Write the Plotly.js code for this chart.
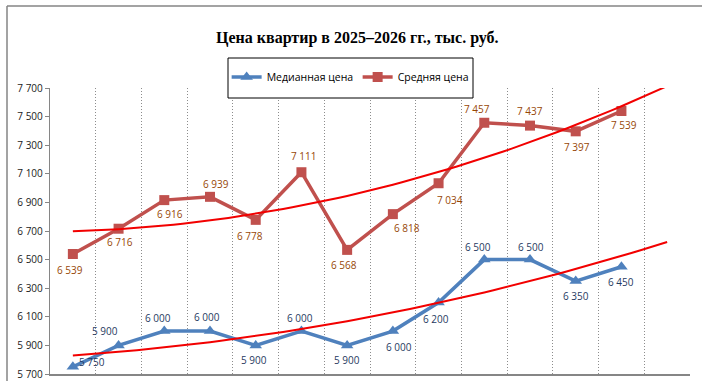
<!DOCTYPE html>
<html>
<head>
<meta charset="utf-8">
<script src="https://cdn.plot.ly/plotly-3.0.1.min.js"></script>
<style>
  html, body { margin: 0; padding: 0; background: #ffffff; }
  #chart { width: 702px; height: 381px; }
</style>
</head>
<body>
<div id="chart"></div>
<script>
// Monthly apartment prices, thousand roubles
const periods = [1, 2, 3, 4, 5, 6, 7, 8, 9, 10, 11, 12, 13];
const medianPrice = [5750, 5900, 6000, 6000, 5900, 6000, 5900, 6000, 6200, 6500, 6500, 6350, 6450];
const averagePrice = [6539, 6716, 6916, 6939, 6778, 7111, 6568, 6818, 7034, 7457, 7437, 7397, 7539];
const seriesNames = ['Медианная цена', 'Средняя цена'];
const yTickValues = [5700, 5900, 6100, 6300, 6500, 6700, 6900, 7100, 7300, 7500, 7700];
const chartTitle = 'Цена квартир в 2025–2026 гг., тыс. руб.';

// Data label offsets in pixels: [right, down]
const medianLabelShift = [[19, -5], [-14, -14], [-6, -13], [-3, -14], [-2, 15], [-1, -13], [0, 15],
                          [6, 16], [-3, 16], [-6, -13], [1, -13], [0, 15], [0, 15]];
const averageLabelShift = [[-3, 16], [1, 13], [6, 14], [6, -13], [-6, 16], [2, -16], [-3, 15],
                           [14, 14], [11, 17], [-7, -14], [0, -15], [1, 16], [3, 14]];

const MEDIAN_COLOR = '#4F81BD';
const AVERAGE_COLOR = '#C0504D';
const MEDIAN_LABEL = '#1F3A5F';
const AVERAGE_LABEL = '#974706';
const TREND_COLOR = '#F20000';
const LABEL_FONT = 'Open Sans, Noto Sans, sans-serif';

// "6 539" style thousands grouping
function fmt(v) {
  return String(v).replace(/\B(?=(\d{3})+(?!\d))/g, ' ');
}

// Least-squares polynomial (degree 2) trend, solved with Gaussian elimination
function quadFit(xs, ys) {
  const n = 3;
  const A = [[0, 0, 0], [0, 0, 0], [0, 0, 0]];
  const b = [0, 0, 0];
  xs.forEach((x, i) => {
    for (let r = 0; r < n; r++) {
      b[r] += ys[i] * Math.pow(x, r);
      for (let c = 0; c < n; c++) A[r][c] += Math.pow(x, r + c);
    }
  });
  for (let p = 0; p < n; p++) {
    let best = p;
    for (let r = p + 1; r < n; r++) if (Math.abs(A[r][p]) > Math.abs(A[best][p])) best = r;
    [A[p], A[best]] = [A[best], A[p]];
    [b[p], b[best]] = [b[best], b[p]];
    for (let r = p + 1; r < n; r++) {
      const f = A[r][p] / A[p][p];
      for (let c = p; c < n; c++) A[r][c] -= f * A[p][c];
      b[r] -= f * b[p];
    }
  }
  const coef = [0, 0, 0];
  for (let r = n - 1; r >= 0; r--) {
    let s = b[r];
    for (let c = r + 1; c < n; c++) s -= A[r][c] * coef[c];
    coef[r] = s / A[r][r];
  }
  return x => coef[0] + coef[1] * x + coef[2] * x * x;
}

// Trend curve sampled over the data span plus one period forecast
function trendCurve(ys) {
  const f = quadFit(periods, ys);
  const last = periods[periods.length - 1] + 1;
  const xs = [];
  for (let x = periods[0]; x <= last + 1e-9; x += 0.2) xs.push(x);
  return { x: xs, y: xs.map(f) };
}

const medianTrend = trendCurve(medianPrice);
const averageTrend = trendCurve(averagePrice);

const slotCount = periods.length + 1;
const boundaries = [];
for (let i = 1; i <= slotCount; i++) boundaries.push(i + 0.5);

const traces = [
  {
    x: periods, y: medianPrice, name: seriesNames[0],
    type: 'scatter', mode: 'lines+markers',
    line: { color: MEDIAN_COLOR, width: 3.5 },
    marker: { symbol: 'triangle-up', size: 11, color: MEDIAN_COLOR },
    hoverinfo: 'skip'
  },
  {
    x: periods, y: averagePrice, name: seriesNames[1],
    type: 'scatter', mode: 'lines+markers',
    line: { color: AVERAGE_COLOR, width: 3.5 },
    marker: { symbol: 'square', size: 10, color: AVERAGE_COLOR },
    hoverinfo: 'skip'
  },
  {
    x: medianTrend.x, y: medianTrend.y, type: 'scatter', mode: 'lines',
    line: { color: TREND_COLOR, width: 2 }, showlegend: false, hoverinfo: 'skip'
  },
  {
    x: averageTrend.x, y: averageTrend.y, type: 'scatter', mode: 'lines',
    line: { color: TREND_COLOR, width: 2 }, showlegend: false, hoverinfo: 'skip'
  }
];

const annotations = [];
function addLabels(values, shifts, color) {
  values.forEach((v, i) => {
    annotations.push({
      x: periods[i], y: v, xref: 'x', yref: 'y',
      text: fmt(v), showarrow: false,
      xshift: shifts[i][0], yshift: -shifts[i][1],
      font: { family: LABEL_FONT, size: 10, color: color }
    });
  });
}
addLabels(medianPrice, medianLabelShift, MEDIAN_LABEL);
addLabels(averagePrice, averageLabelShift, AVERAGE_LABEL);

const layout = {
  width: 702, height: 381,
  margin: { l: 50, r: 12, t: 88, b: 7, pad: 0 },
  paper_bgcolor: '#ffffff', plot_bgcolor: '#ffffff',
  title: {
    text: chartTitle,
    font: { family: 'Liberation Serif, Times New Roman, serif', size: 16, color: '#000000', weight: 'bold' },
    x: 0.509, xref: 'container', xanchor: 'center',
    y: 0.903, yref: 'container', yanchor: 'middle'
  },
  xaxis: {
    range: [0.5, 14.5], tickvals: boundaries, showticklabels: false,
    showgrid: true, griddash: '1px,2px', gridcolor: '#8c8c8c', gridwidth: 1,
    showline: true, linecolor: '#868686', linewidth: 1.5,
    ticks: '', zeroline: false, fixedrange: true
  },
  yaxis: {
    range: [5700, 7700], tickvals: yTickValues, ticktext: yTickValues.map(fmt),
    showgrid: false, zeroline: false,
    showline: true, linecolor: '#868686', linewidth: 1.2,
    ticks: 'outside', ticklen: 4, tickcolor: '#868686', tickwidth: 1,
    tickfont: { family: LABEL_FONT, size: 10, color: '#1a1a1a' },
    fixedrange: true
  },
  showlegend: true,
  legend: {
    orientation: 'h', x: 0.276, xanchor: 'left', y: 1.0385, yanchor: 'middle',
    bgcolor: 'rgba(0,0,0,0)', borderwidth: 0,
    font: { family: LABEL_FONT, size: 10.5, color: '#000000' },
    itemwidth: 30, entrywidth: 86, traceorder: 'normal'
  },
  shapes: [
    // legend frame
    { type: 'rect', xref: 'paper', yref: 'paper',
      x0: (228 - 50) / 640, x1: (473 - 50) / 640, y0: (374 - 98) / 286, y1: (374 - 58) / 286,
      fillcolor: '#ffffff', line: { color: '#000000', width: 1 }, layer: 'above' },
    // chart area border
    { type: 'line', xref: 'paper', yref: 'paper',
      x0: (7 - 50) / 640, x1: (710 - 50) / 640, y0: (374 - 6) / 286, y1: (374 - 6) / 286,
      line: { color: '#858585', width: 1.5 } },
    { type: 'line', xref: 'paper', yref: 'paper',
      x0: (7 - 50) / 640, x1: (7 - 50) / 640, y0: (374 - 6) / 286, y1: (374 - 390) / 286,
      line: { color: '#858585', width: 1.5 } }
  ],
  annotations: annotations
};

Plotly.newPlot('chart', traces, layout, { displayModeBar: false, staticPlot: true });
</script>
</body>
</html>
